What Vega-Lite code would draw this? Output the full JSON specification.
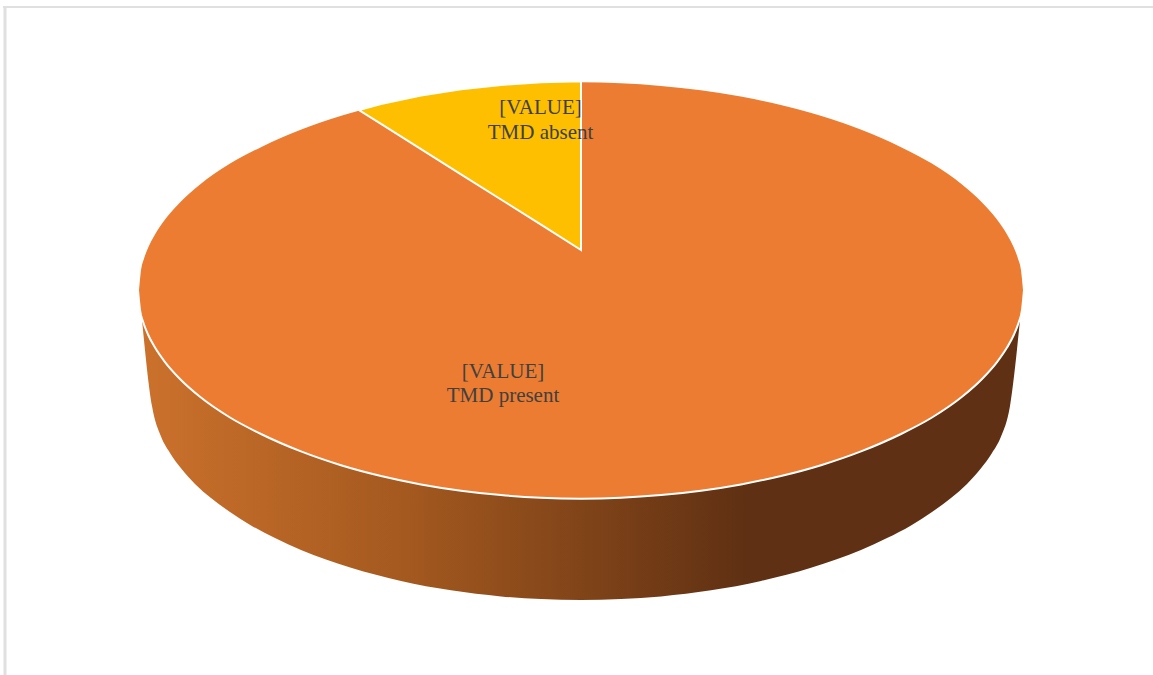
{
"$schema":"https://vega.github.io/schema/vega-lite/v6.json",
"width":1153,"height":675,"padding":0,
"autosize":{"type":"none"},
"background":"white",
"config":{"view":{"stroke":null}},
"datasets":{
"wall":[{"x":142,"y":320,"y2":320},{"x":152,"y":320,"y2":406},{"x":161,"y":320,"y2":436.6},{"x":170,"y":320,"y2":453},{"x":181,"y":320,"y2":468.3},{"x":195,"y":320,"y2":484},{"x":211,"y":320,"y2":498},{"x":230,"y":320,"y2":512},{"x":251,"y":320,"y2":525.4},{"x":275,"y":320,"y2":538},{"x":301,"y":320,"y2":549.9},{"x":351,"y":320,"y2":567.7},{"x":401,"y":320,"y2":580.9},{"x":451,"y":320,"y2":590.3},{"x":501,"y":320,"y2":596.4},{"x":541,"y":320,"y2":599.1},{"x":581,"y":320,"y2":600},{"x":621,"y":320,"y2":599.1},{"x":661,"y":320,"y2":596.4},{"x":711,"y":320,"y2":590.3},{"x":761,"y":320,"y2":580.9},{"x":811,"y":320,"y2":567.7},{"x":861,"y":320,"y2":549.9},{"x":887,"y":320,"y2":538},{"x":911,"y":320,"y2":525.4},{"x":932,"y":320,"y2":512},{"x":951,"y":320,"y2":498},{"x":967,"y":320,"y2":484},{"x":981,"y":320,"y2":468.3},{"x":992,"y":320,"y2":453},{"x":1001,"y":320,"y2":436.6},{"x":1010,"y":320,"y2":406},{"x":1020,"y":320,"y2":320}],
"present":[{"x":138,"y":290,"y2":290},{"x":140,"y":270,"y2":310},{"x":143,"y":258.5,"y2":321.5},{"x":148,"y":245.5,"y2":334.5},{"x":155,"y":232.4,"y2":347.6},{"x":165,"y":217.9,"y2":362.1},{"x":180,"y":201,"y2":379},{"x":200,"y":183.2,"y2":396.8},{"x":230,"y":162.5,"y2":417.5},{"x":261,"y":146,"y2":434},{"x":301,"y":128.6,"y2":451.4},{"x":341,"y":114.8,"y2":465.2},{"x":381,"y":104,"y2":476},{"x":421,"y":95.6,"y2":484.4},{"x":461,"y":89.3,"y2":490.7},{"x":501,"y":84.9,"y2":495.1},{"x":541,"y":82.2,"y2":497.8},{"x":581,"y":81.3,"y2":498.7},{"x":621,"y":82.2,"y2":497.8},{"x":661,"y":84.9,"y2":495.1},{"x":701,"y":89.3,"y2":490.7},{"x":741,"y":95.6,"y2":484.4},{"x":781,"y":104,"y2":476},{"x":821,"y":114.8,"y2":465.2},{"x":861,"y":128.6,"y2":451.4},{"x":901,"y":146,"y2":434},{"x":932,"y":162.5,"y2":417.5},{"x":962,"y":183.2,"y2":396.8},{"x":982,"y":201,"y2":379},{"x":997,"y":217.9,"y2":362.1},{"x":1007,"y":232.4,"y2":347.6},{"x":1014,"y":245.5,"y2":334.5},{"x":1019,"y":258.5,"y2":321.5},{"x":1022,"y":270,"y2":310},{"x":1024,"y":290,"y2":290}],
"absent":[{"x":359,"y":110.1,"y2":110.1},{"x":381,"y":104,"y2":123.9},{"x":421,"y":95.6,"y2":149.1},{"x":461,"y":89.3,"y2":174.3},{"x":501,"y":84.9,"y2":199.5},{"x":541,"y":82.2,"y2":224.7},{"x":581,"y":81.3,"y2":250}],
"labels":[{"x":540.5,"y":108,"label":"[VALUE]"},{"x":540.5,"y":133,"label":"TMD absent"},{"x":503,"y":372,"label":"[VALUE]"},{"x":503,"y":396,"label":"TMD present"}],
"frameTop":[{"x":3,"x2":1153,"y":7}],
"frameLeft":[{"x":5,"y":6,"y2":675}]
},
"encoding":{
"x":{"field":"x","type":"quantitative","scale":{"domain":[0,1153],"nice":false,"zero":false},"axis":null},
"y":{"field":"y","type":"quantitative","scale":{"domain":[675,0],"nice":false,"zero":false},"axis":null}
},
"layer":[
{"data":{"name":"frameTop"},"mark":{"type":"rule","color":"#e0e0e0","strokeWidth":2},"encoding":{"x2":{"field":"x2"}}},
{"data":{"name":"frameLeft"},"mark":{"type":"rule","color":"#e0e0e0","strokeWidth":3},"encoding":{"y2":{"field":"y2"}}},
{"data":{"name":"wall"},"mark":{"type":"area","interpolate":"monotone","color":{"gradient":"linear","x1":0,"y1":0,"x2":1,"y2":0,"stops":[{"offset":0,"color":"#cb712c"},{"offset":0.3,"color":"#a4591f"},{"offset":0.69,"color":"#5f3013"},{"offset":1,"color":"#5f3013"}]}},"encoding":{"y2":{"field":"y2"}}},
{"data":{"name":"present"},"mark":{"type":"area","color":"#ec7c31","stroke":"white","strokeWidth":2,"interpolate":"monotone"},"encoding":{"y2":{"field":"y2"}}},
{"data":{"name":"absent"},"mark":{"type":"area","color":"#fdbf00","stroke":"white","strokeWidth":2},"encoding":{"y2":{"field":"y2"}}},
{"data":{"name":"labels"},"mark":{"type":"text","font":"Liberation Serif","fontSize":21,"color":"#404040","align":"center","baseline":"middle"},"encoding":{"text":{"field":"label"}}}
]
}
